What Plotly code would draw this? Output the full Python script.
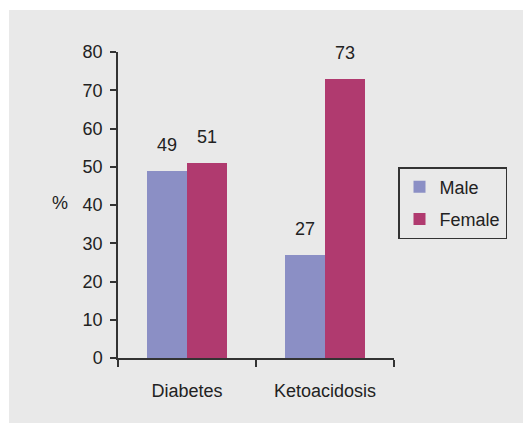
import plotly.graph_objects as go

categories = ["Diabetes", "Ketoacidosis"]
male = [49, 27]
female = [51, 73]
series_names = ["Male", "Female"]
y_ticks = [0, 10, 20, 30, 40, 50, 60, 70, 80]

W, H = 523, 423
L, R, T, B = 118, 129, 52, 65
pw, ph = W - L - R, H - T - B

def px_x(p):
    return (p - L) / pw

def px_y(p):
    return (H - B - p) / ph

bw = 0.29
colors = ["#8b8fc5", "#b03a6f"]
xs = list(range(len(categories)))
FS = 18

fig = go.Figure()
anns = []
for k, (name, vals, col, off) in enumerate(zip(series_names, [male, female], colors, [-bw, 0.0])):
    fig.add_trace(go.Bar(
        x=xs, y=vals, name=name, width=bw, offset=off,
        marker=dict(color=col, line=dict(width=0)),
        legendgroup=name,
    ))
    for xi, v in zip(xs, vals):
        anns.append(dict(x=xi + off + bw / 2, y=v, xref="x", yref="y", text=str(v),
                         showarrow=False, yshift=26, yanchor="middle",
                         font=dict(size=FS, color="#222")))

anns.append(dict(x=px_x(50), y=px_y(203), xref="paper", yref="paper", text="%",
                 showarrow=False, font=dict(size=FS, color="#222")))

fig.update_layout(
    width=W, height=H,
    margin=dict(l=L, r=R, t=T, b=B),
    paper_bgcolor="white",
    plot_bgcolor="rgba(0,0,0,0)",
    font=dict(family="Liberation Sans, Arial, sans-serif", size=FS, color="#222"),
    showlegend=True,
    legend=dict(x=px_x(398), y=px_y(167), xanchor="left", yanchor="top",
                xref="paper", yref="paper",
                bordercolor="#333", borderwidth=1.5, bgcolor="rgba(0,0,0,0)",
                font=dict(size=FS, color="#222"), traceorder="grouped",
                tracegroupgap=6, itemwidth=30),
    annotations=anns,
    shapes=[dict(type="rect", xref="paper", yref="paper",
                 x0=px_x(9), x1=px_x(523), y0=px_y(423), y1=px_y(10),
                 fillcolor="#e9e9e9", line=dict(width=0), layer="below")],
    bargap=0,
)
fig.update_xaxes(range=[-0.5, 1.5], tickvals=xs, ticktext=categories, ticks="",
                 showline=True, linecolor="#333", linewidth=1.5, showgrid=False,
                 zeroline=False, ticklabelstandoff=16,
                 minor=dict(tickvals=[-0.5, 0.5, 1.5], ticks="outside", ticklen=7,
                            tickcolor="#333", tickwidth=1.5, showgrid=False))
fig.update_yaxes(range=[0, 80], tickvals=y_ticks, ticks="outside", ticklen=6,
                 tickcolor="#333", tickwidth=1.5, showline=True, linecolor="#333",
                 linewidth=1.5, showgrid=False, zeroline=False, ticklabelstandoff=4)

fig.write_html("out.html")
